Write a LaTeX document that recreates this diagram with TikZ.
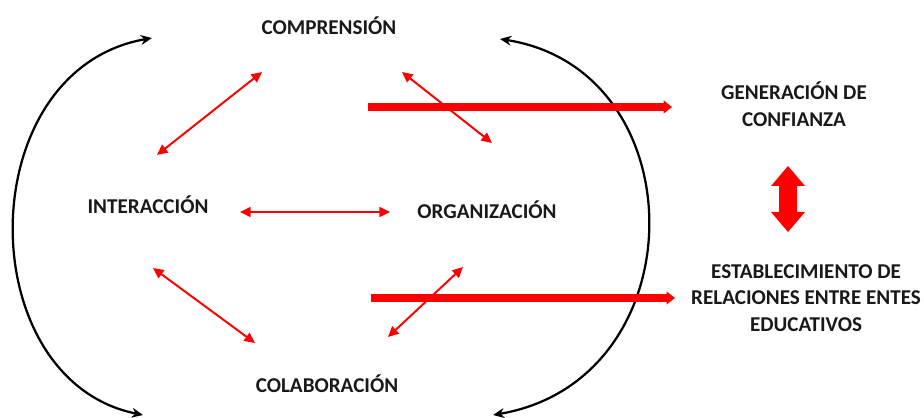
\documentclass[tikz,border=0pt]{standalone}
\usepackage{fontspec}
\setmainfont{Carlito}
\usetikzlibrary{arrows.meta}
\tikzset{
    % labels and arrows
    lbl/.style={font=\bfseries\fontsize{15}{19}\selectfont, align=center, text=black!90},
    rarrow/.style={red, line width=1.4pt, {Triangle[length=7.5pt,width=7pt]}-{Triangle[length=7.5pt,width=7pt]}},
    barc/.style={black, line width=1.6pt, {Stealth[length=8pt,width=7pt]}-{Stealth[length=8pt,width=7pt]}},
    bigarrow/.style={red, line width=5.7pt, -{Triangle[length=6pt,width=9pt]}}
}
\begin{document}
\begin{tikzpicture}[x=0.025cm, y=-0.025cm]
    \useasboundingbox (0,0) rectangle (924,418);
    \node[lbl] (comp) at (329,26) {COMPRENSIÓN};
    \node[lbl] (inter) at (148,205) {INTERACCIÓN};
    \node[lbl] (org) at (487,210) {ORGANIZACIÓN};
    \node[lbl] (colab) at (327,384) {COLABORACIÓN};
    \node[lbl] (conf) at (794,104) {GENERACIÓN DE\\CONFIANZA};
    \node[lbl] (rel) at (806,298) {ESTABLECIMIENTO DE\\RELACIONES ENTRE ENTES\\EDUCATIVOS};

    % ends of the thin arrows
    \coordinate (c1) at (262,72);
    \coordinate (i1) at (157,155);
    \coordinate (i2) at (240,212);
    \coordinate (o1) at (390,212);
    \coordinate (i3) at (153,268);
    \coordinate (l1) at (255,343);
    \coordinate (c2) at (402,72);
    \coordinate (o2) at (492,143);
    \coordinate (o3) at (463,267);
    \coordinate (l2) at (388,337);
    \draw[rarrow] (c1) -- (i1);
    \draw[rarrow] (i2) -- (o1);
    \draw[rarrow] (i3) -- (l1);
    \draw[rarrow] (c2) -- (o2);
    \draw[rarrow] (o3) -- (l2);

    % outer arcs
    \coordinate (lt) at (152,38);
    \coordinate (lb) at (143,415);
    \coordinate (rt) at (500,39);
    \coordinate (rb) at (493,415);
    \draw[barc] (lb) .. controls (-30,380) and (-30,70) .. (lt);
    \draw[barc] (rt) .. controls (698,70) and (698,380) .. (rb);

    % thick arrows
    \coordinate (s1) at (368,107);
    \coordinate (e1) at (672,107);
    \coordinate (s2) at (371,298);
    \coordinate (e2) at (675,298);
    \draw[bigarrow] (s1) -- (e1);
    \draw[bigarrow] (s2) -- (e2);

    % double arrow between the results
    \fill[red] (788,166) -- (805,186) -- (797,186) -- (797,212) -- (805,212)
        -- (788,232) -- (771,212) -- (779,212) -- (779,186) -- (771,186) -- cycle;
\end{tikzpicture}
\end{document}
